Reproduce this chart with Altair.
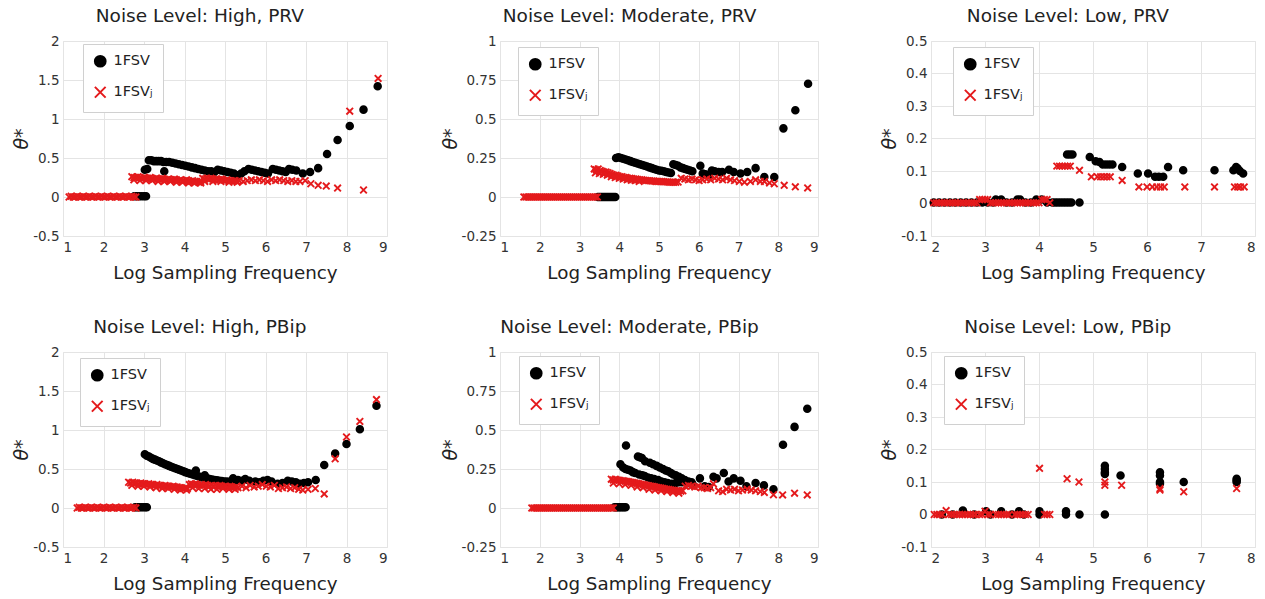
import altair as alt
import pandas as pd

S1 = "1FSV"
S2 = "1FSV\u2c7c"
XPATH = "M-1,-1L1,1M-1,1L1,-1"

# ---------------- Noise Level: High, PRV ----------------
hprv_fsv = [(2.76,0.01),(2.82,0.01),(2.88,0.01),(2.94,0.01),(3.0,0.01),(3.05,0.01),
    (3.02,0.35),(3.08,0.36),
    (3.12,0.47),(3.18,0.47),(3.24,0.46),(3.3,0.46),(3.36,0.46),(3.42,0.46),(3.48,0.45),(3.55,0.45),
    (3.62,0.45),(3.7,0.44),(3.78,0.43),(3.86,0.42),(3.94,0.41),(4.02,0.40),(4.1,0.39),(4.18,0.38),
    (4.26,0.37),(4.34,0.36),(4.42,0.35),(4.5,0.34),(4.58,0.33),(4.66,0.33),(4.74,0.32),(4.82,0.35),
    (4.9,0.34),(4.98,0.33),(5.06,0.32),(5.14,0.31),(5.22,0.30),(5.3,0.28),(3.5,0.33),
    (5.4,0.30),(5.48,0.33),(5.58,0.36),(5.66,0.35),(5.74,0.34),(5.82,0.33),(5.9,0.32),(5.98,0.31),
    (6.06,0.30),(6.18,0.36),(6.26,0.35),(6.34,0.34),(6.42,0.33),(6.5,0.32),(6.58,0.36),(6.66,0.35),
    (6.76,0.34),(6.92,0.30),(7.1,0.32),(7.3,0.37),(7.52,0.55),(7.78,0.73),(8.08,0.91),(8.42,1.12),(8.77,1.42)]
hprv_fsvj = [(1.15,0),(1.2,0.01),(1.25,0),(1.3,0),(1.35,0.01),(1.4,0),(1.45,0),(1.5,0.01),(1.55,0),
    (1.6,0),(1.65,0.01),(1.7,0),(1.75,0),(1.8,0.01),(1.85,0),(1.9,0),(1.95,0.01),(2.0,0),(2.05,0),
    (2.1,0.01),(2.15,0),(2.2,0),(2.25,0.01),(2.3,0),(2.35,0),(2.4,0.01),(2.45,0),(2.5,0),(2.55,0.01),
    (2.6,0),(2.65,0),(2.7,0.01),(2.75,0),(2.8,0),
    (2.7,0.26),(2.75,0.25),(2.8,0.25),(2.85,0.26),(2.9,0.25),(2.95,0.24),(3.0,0.25),(3.05,0.24),
    (3.1,0.24),(3.15,0.25),(3.2,0.24),(3.25,0.23),(3.3,0.24),(3.35,0.23),(3.4,0.23),(3.45,0.24),
    (3.5,0.23),(3.55,0.22),(3.6,0.23),(3.65,0.22),(3.7,0.22),(3.75,0.23),(3.8,0.22),(3.85,0.21),
    (3.9,0.22),(3.95,0.21),(4.0,0.21),(4.05,0.22),(4.1,0.21),(4.15,0.20),(4.2,0.21),(4.25,0.20),
    (4.3,0.20),(4.35,0.19),(4.4,0.20),
    (2.75,0.22),(2.9,0.21),(3.05,0.21),(3.2,0.21),(3.35,0.20),(3.5,0.20),(3.65,0.20),(3.8,0.19),
    (3.95,0.19),(4.1,0.18),(4.25,0.18),(4.4,0.18),
    (4.45,0.24),(4.5,0.23),(4.55,0.24),(4.6,0.23),(4.65,0.24),(4.7,0.23),(4.75,0.22),(4.8,0.23),
    (4.85,0.22),(4.9,0.23),(4.95,0.22),(5.0,0.21),(5.05,0.22),(5.1,0.21),(5.15,0.21),(5.2,0.20),
    (5.25,0.21),(5.3,0.20),(5.35,0.21),(4.5,0.20),(4.7,0.20),(4.9,0.20),(5.1,0.19),(5.3,0.19),
    (5.45,0.20),(5.55,0.21),(5.65,0.22),(5.75,0.21),(5.85,0.22),(5.95,0.21),(6.05,0.20),(6.15,0.22),
    (6.25,0.21),(6.35,0.22),(6.45,0.21),(6.55,0.20),(6.65,0.21),(6.75,0.20),(6.85,0.20),(6.98,0.21),
    (7.12,0.17),(7.3,0.15),(7.5,0.14),(7.78,0.115),(8.08,1.10),(8.42,0.09),(8.78,1.52)]

# ---------------- Noise Level: Moderate, PRV ----------------
mprv_fsv = [(3.46,0),(3.5,0),(3.54,0),(3.58,0),(3.62,0),(3.66,0),(3.7,0),(3.74,0),(3.78,0),(3.82,0),
    (3.86,0),(3.9,0),
    (3.92,0.25),(3.98,0.255),(4.04,0.25),(4.1,0.245),(4.16,0.24),(4.22,0.235),(4.28,0.23),(4.34,0.225),
    (4.4,0.22),(4.46,0.215),(4.52,0.21),(4.58,0.205),(4.64,0.2),(4.7,0.195),(4.76,0.19),(4.82,0.185),
    (4.88,0.18),(4.94,0.175),(5.0,0.17),(5.06,0.168),(5.12,0.165),(5.18,0.16),(5.24,0.157),(5.3,0.154),
    (5.36,0.21),(5.42,0.205),(5.48,0.2),(5.54,0.19),(5.6,0.185),(5.66,0.18),(5.72,0.175),(5.78,0.17),
    (5.84,0.165),(6.04,0.2),(6.1,0.15),(6.17,0.145),(6.25,0.14),(6.33,0.17),(6.4,0.165),(6.5,0.16),
    (6.59,0.16),(6.76,0.175),(6.88,0.16),(7.05,0.15),(7.22,0.16),(7.43,0.185),(7.65,0.128),(7.9,0.128),
    (8.13,0.44),(8.43,0.556),(8.75,0.726)]
mprv_fsvj = [(1.6,0),(1.65,0),(1.7,0),(1.75,0),(1.8,0),(1.85,0),(1.9,0),(1.95,0),(2.0,0),(2.05,0),
    (2.1,0),(2.15,0),(2.2,0),(2.25,0),(2.3,0),(2.35,0),(2.4,0),(2.45,0),(2.5,0),(2.55,0),(2.6,0),
    (2.65,0),(2.7,0),(2.75,0),(2.8,0),(2.85,0),(2.9,0),(2.95,0),(3.0,0),(3.05,0),(3.1,0),(3.15,0),
    (3.2,0),(3.25,0),(3.3,0),(3.35,0),(3.4,0),(3.45,0),
    (3.37,0.18),(3.42,0.175),(3.47,0.18),(3.52,0.17),(3.57,0.165),(3.62,0.16),(3.67,0.16),(3.72,0.155),
    (3.77,0.15),(3.82,0.145),(3.87,0.14),(3.92,0.14),(3.97,0.135),(4.02,0.13),(4.07,0.13),(4.12,0.125),
    (4.17,0.125),(4.22,0.12),(4.27,0.12),(4.32,0.118),(4.37,0.115),(4.42,0.115),(4.47,0.112),(4.52,0.11),
    (4.57,0.11),(4.62,0.108),(4.67,0.106),(4.72,0.105),(4.77,0.104),(4.82,0.103),(4.87,0.102),(4.92,0.1),
    (4.97,0.1),(5.02,0.1),(5.07,0.099),(5.12,0.098),(5.17,0.097),(5.22,0.096),(5.27,0.095),(5.32,0.095),
    (5.37,0.094),(5.42,0.094),(5.48,0.096),
    (3.4,0.155),(3.5,0.15),(3.6,0.145),(3.7,0.14),(3.8,0.13),(3.9,0.125),(4.0,0.12),(4.1,0.115),
    (4.2,0.11),(4.3,0.108),(4.4,0.105),(4.5,0.1),
    (5.56,0.12),(5.65,0.115),(5.74,0.11),(5.83,0.115),(5.92,0.11),(6.01,0.105),(6.1,0.11),(6.2,0.115),
    (6.3,0.11),(6.4,0.12),(6.5,0.115),(6.6,0.11),(6.7,0.12),(6.8,0.11),(6.9,0.105),(7.02,0.1),
    (7.15,0.095),(7.3,0.1),(7.43,0.11),(7.55,0.1),(7.65,0.1),(7.78,0.09),(7.9,0.085),(8.15,0.075),
    (8.43,0.065),(8.74,0.058)]

# ---------------- Noise Level: Low, PRV ----------------
lprv_fsv = [(2.05,0.003),(2.15,0.003),(2.25,0.003),(2.35,0.003),(2.45,0.003),(2.55,0.003),(2.65,0.003),
    (2.75,0.003),(2.85,0.003),(2.95,0.003),(3.05,0.003),(3.15,0.003),(3.2,0.012),(3.3,0.012),
    (3.4,0.003),(3.5,0.003),(3.6,0.012),(3.65,0.012),(3.75,0.003),(3.85,0.003),(3.95,0.012),
    (4.05,0.012),(4.15,0.003),(4.25,0.003),(4.3,0.003),(4.35,0.003),(4.4,0.003),(4.45,0.003),
    (4.5,0.003),(4.55,0.003),(4.6,0.003),(4.75,0.003),
    (4.52,0.151),(4.57,0.151),(4.62,0.151),(4.94,0.143),(5.05,0.13),(5.12,0.128),(5.18,0.12),
    (5.24,0.12),(5.3,0.12),(5.36,0.12),(5.54,0.112),(5.83,0.092),(6.02,0.092),(6.15,0.082),
    (6.22,0.082),(6.3,0.082),(6.39,0.112),(6.67,0.102),(7.25,0.102),(7.6,0.102),(7.65,0.112),
    (7.68,0.108),(7.72,0.1),(7.78,0.092)]
lprv_fsvj = [(2.05,0.002),(2.1,0.002),(2.15,0.002),(2.2,0.002),(2.25,0.002),(2.3,0.002),(2.35,0.002),
    (2.4,0.002),(2.45,0.002),(2.5,0.002),(2.55,0.002),(2.6,0.002),(2.65,0.002),(2.7,0.002),(2.75,0.002),
    (2.8,0.002),(2.85,0.002),(2.9,0.012),(2.95,0.012),(3.0,0.012),(3.05,0.012),(3.1,0.002),(3.15,0.002),
    (3.2,0.002),(3.25,0.002),(3.3,0.002),(3.35,0.002),(3.4,0.002),(3.45,0.002),(3.5,0.002),(3.55,0.002),
    (3.6,0.002),(3.65,0.002),(3.7,0.002),(3.75,0.002),(3.8,0.002),(3.85,0.002),(3.9,0.002),(3.95,0.002),
    (4.0,0.002),(4.05,0.012),(4.1,0.012),(4.15,0.012),(4.2,0.002),
    (4.33,0.115),(4.38,0.115),(4.43,0.115),(4.48,0.115),(4.53,0.115),(4.58,0.115),(4.75,0.102),
    (4.97,0.082),(5.08,0.082),(5.14,0.082),(5.2,0.082),(5.26,0.082),(5.32,0.082),(5.54,0.071),
    (5.85,0.051),(6.0,0.051),(6.1,0.051),(6.18,0.051),(6.25,0.051),(6.32,0.051),(6.7,0.051),
    (7.25,0.051),(7.62,0.051),(7.68,0.051),(7.73,0.051),(7.8,0.051)]

# ---------------- Noise Level: High, PBip ----------------
hpbip_fsv = [(2.78,0.01),(2.83,0.01),(2.88,0.01),(2.93,0.01),(2.98,0.01),(3.03,0.01),(3.07,0.01),
    (3.02,0.69),(3.07,0.67),(3.12,0.66),(3.17,0.645),(3.22,0.63),(3.27,0.62),(3.32,0.61),(3.37,0.6),
    (3.42,0.585),(3.47,0.575),(3.52,0.56),(3.57,0.55),(3.62,0.54),(3.67,0.53),(3.72,0.52),(3.77,0.51),
    (3.82,0.5),(3.87,0.49),(3.92,0.48),(3.97,0.47),(4.02,0.46),(4.08,0.45),(4.14,0.44),(4.2,0.43),
    (4.26,0.42),(4.32,0.41),(4.38,0.4),(4.44,0.39),(4.5,0.385),(4.56,0.38),(4.62,0.37),(4.68,0.365),
    (4.74,0.36),(4.8,0.355),(4.86,0.35),(4.92,0.345),(4.98,0.34),(5.04,0.34),(5.1,0.335),(5.16,0.33),
    (5.22,0.33),(4.28,0.48),(4.5,0.42),
    (5.2,0.38),(5.32,0.36),(5.42,0.35),(5.5,0.37),(5.6,0.35),(5.75,0.34),(5.85,0.33),(5.95,0.35),
    (6.05,0.36),(6.15,0.34),(6.3,0.31),(6.42,0.32),(6.55,0.35),(6.65,0.34),(6.75,0.33),(6.85,0.31),
    (6.95,0.32),(7.05,0.33),(7.24,0.36),(7.45,0.55),(7.72,0.70),(8.0,0.82),(8.33,1.01),(8.74,1.31)]
hpbip_fsvj = [(1.35,0),(1.4,0.01),(1.45,0),(1.5,0),(1.55,0.01),(1.6,0),(1.65,0),(1.7,0.01),(1.75,0),
    (1.8,0),(1.85,0.01),(1.9,0),(1.95,0),(2.0,0.01),(2.05,0),(2.1,0),(2.15,0.01),(2.2,0),(2.25,0),
    (2.3,0.01),(2.35,0),(2.4,0),(2.45,0.01),(2.5,0),(2.55,0),(2.6,0.01),(2.65,0),(2.7,0),(2.75,0.01),
    (2.8,0),
    (2.62,0.33),(2.67,0.32),(2.72,0.33),(2.77,0.32),(2.82,0.32),(2.87,0.31),(2.92,0.32),(2.97,0.31),
    (3.02,0.31),(3.07,0.30),(3.12,0.31),(3.17,0.30),(3.22,0.30),(3.27,0.29),(3.32,0.30),(3.37,0.29),
    (3.42,0.29),(3.47,0.28),(3.52,0.29),(3.57,0.28),(3.62,0.28),(3.67,0.27),(3.72,0.28),(3.77,0.27),
    (3.82,0.27),(3.87,0.26),(3.92,0.26),(3.97,0.25),(4.02,0.26),(4.07,0.25),
    (2.7,0.29),(2.85,0.28),(3.0,0.28),(3.15,0.27),(3.3,0.26),(3.45,0.25),(3.6,0.25),(3.75,0.24),
    (3.9,0.23),(4.05,0.23),
    (4.12,0.30),(4.17,0.31),(4.22,0.30),(4.27,0.31),(4.32,0.30),(4.37,0.29),(4.42,0.30),(4.47,0.29),
    (4.52,0.30),(4.57,0.29),(4.62,0.28),(4.67,0.29),(4.72,0.28),(4.77,0.29),(4.82,0.28),(4.87,0.29),
    (4.92,0.28),(4.97,0.27),(5.02,0.28),(5.07,0.27),(5.12,0.28),(5.17,0.27),(5.22,0.26),(5.27,0.27),
    (5.32,0.26),
    (4.2,0.26),(4.35,0.25),(4.5,0.25),(4.65,0.24),(4.8,0.24),(4.95,0.25),(5.1,0.24),(5.25,0.24),
    (5.42,0.28),(5.52,0.26),(5.62,0.29),(5.72,0.27),(5.82,0.28),(5.92,0.30),(6.02,0.28),(6.12,0.27),
    (6.22,0.29),(6.32,0.25),(6.42,0.26),(6.52,0.27),(6.62,0.25),(6.72,0.26),(6.82,0.24),(6.92,0.23),
    (7.05,0.24),(7.23,0.25),(7.45,0.18),(7.72,0.63),(8.0,0.91),(8.33,1.11),(8.74,1.39)]

# ---------------- Noise Level: Moderate, PBip ----------------
mpbip_fsv = [(3.88,0.005),(3.92,0.005),(3.96,0.005),(4.0,0.005),(4.04,0.005),(4.08,0.005),(4.12,0.005),
    (4.16,0.005),
    (4.17,0.40),(4.03,0.28),(4.1,0.26),(4.16,0.25),(4.22,0.245),(4.28,0.24),(4.34,0.23),(4.4,0.225),
    (4.47,0.33),(4.52,0.325),(4.57,0.32),(4.65,0.30),(4.77,0.29),(4.85,0.28),(4.94,0.27),(5.02,0.26),
    (5.1,0.25),(5.17,0.24),(5.23,0.235),(5.3,0.225),(5.36,0.215),(5.42,0.21),(5.5,0.20),(5.57,0.19),
    (5.65,0.18),(5.74,0.17),(5.82,0.165),
    (4.5,0.215),(4.58,0.21),(4.64,0.205),(4.72,0.195),(4.8,0.19),(4.88,0.185),(4.98,0.18),(5.06,0.17),
    (5.14,0.165),(5.22,0.16),(5.32,0.155),(5.42,0.16),(5.5,0.165),(5.58,0.165),(5.66,0.165),(5.75,0.16),
    (5.85,0.15),(6.03,0.19),(6.15,0.14),(6.25,0.135),(6.37,0.20),(6.45,0.19),(6.63,0.225),(6.75,0.17),
    (6.88,0.19),(7.05,0.175),(7.2,0.14),(7.43,0.16),(7.64,0.145),(7.88,0.12),(8.12,0.405),(8.41,0.52),
    (8.73,0.636)]
mpbip_fsvj = [(1.8,0),(1.85,0),(1.9,0),(1.95,0),(2.0,0),(2.05,0),(2.1,0),(2.15,0),(2.2,0),(2.25,0),
    (2.3,0),(2.35,0),(2.4,0),(2.45,0),(2.5,0),(2.55,0),(2.6,0),(2.65,0),(2.7,0),(2.75,0),(2.8,0),
    (2.85,0),(2.9,0),(2.95,0),(3.0,0),(3.05,0),(3.1,0),(3.15,0),(3.2,0),(3.25,0),(3.3,0),(3.35,0),
    (3.4,0),(3.45,0),(3.5,0),(3.55,0),(3.6,0),(3.65,0),(3.7,0),(3.75,0),(3.8,0),(3.85,0),
    (3.8,0.185),(3.85,0.18),(3.9,0.185),(3.95,0.18),(4.0,0.178),(4.05,0.175),(4.1,0.175),(4.15,0.172),
    (4.2,0.17),(4.25,0.168),(4.3,0.165),(4.35,0.163),(4.4,0.16),(4.45,0.158),(4.5,0.155),(4.55,0.152),
    (4.6,0.15),(4.65,0.148),(4.7,0.145),(4.75,0.142),(4.8,0.14),(4.85,0.138),(4.9,0.135),(4.95,0.132),
    (5.0,0.13),(5.05,0.128),(5.1,0.125),(5.15,0.122),(5.2,0.12),(5.25,0.118),(5.3,0.116),(5.35,0.114),
    (5.4,0.112),(5.45,0.11),(5.5,0.11),(5.55,0.108),(5.6,0.11),
    (3.85,0.16),(4.0,0.155),(4.15,0.15),(4.3,0.145),(4.45,0.135),(4.6,0.13),(4.75,0.12),(4.9,0.115),
    (5.05,0.11),(5.2,0.105),(5.35,0.10),(5.5,0.095),
    (5.66,0.14),(5.74,0.145),(5.82,0.14),(5.9,0.135),(5.98,0.14),(6.06,0.13),(6.14,0.13),(6.22,0.125),
    (6.3,0.13),(6.37,0.155),(6.5,0.11),(6.6,0.105),(6.7,0.12),(6.8,0.115),(6.9,0.12),(7.0,0.11),
    (7.1,0.115),(7.22,0.12),(7.32,0.115),(7.43,0.11),(7.55,0.105),(7.65,0.10),(7.88,0.085),(8.11,0.084),
    (8.41,0.095),(8.73,0.084)]

# ---------------- Noise Level: Low, PBip ----------------
lpbip_fsv = [(2.2,0),(2.4,0),(2.59,0.012),(2.8,0),(3.02,0.01),(3.1,0),(3.3,0.01),(3.5,0),(3.63,0.01),
    (3.72,0),(4.01,0),(4.01,0.01),(4.5,0),(4.5,0.01),(4.75,0),(5.22,0),
    (5.22,0.15),(5.22,0.14),(5.22,0.13),(5.22,0.125),(5.51,0.12),(6.24,0.13),(6.24,0.12),(6.24,0.10),
    (6.24,0.095),(6.68,0.10),(7.66,0.11),(7.66,0.105),(7.66,0.10)]
lpbip_fsvj = [(2.06,0),(2.11,0),(2.16,0),(2.21,0),(2.28,0.012),(2.33,0),(2.38,0),(2.43,0),(2.48,0),
    (2.53,0),(2.58,0),(2.63,0),(2.68,0),(2.73,0),(2.78,0),(2.83,0),(2.9,0),(2.95,0),(3.0,0.01),
    (3.05,0),(3.1,0),(3.2,0),(3.25,0),(3.3,0),(3.35,0),(3.4,0),(3.45,0),(3.55,0),(3.6,0),(3.65,0),
    (3.7,0),(3.75,0),(3.8,0),(4.1,0),(4.15,0),(4.2,0),
    (4.01,0.142),(4.52,0.11),(4.74,0.10),(5.22,0.10),(5.22,0.09),(5.53,0.09),(6.24,0.08),(6.24,0.075),
    (6.68,0.07),(7.66,0.08)]

TITLES = ["Noise Level: High, PRV", "Noise Level: Moderate, PRV", "Noise Level: Low, PRV",
          "Noise Level: High, PBip", "Noise Level: Moderate, PBip", "Noise Level: Low, PBip"]
X_WIDE = [1, 2, 3, 4, 5, 6, 7, 8, 9]
X_NARROW = [2, 3, 4, 5, 6, 7, 8]
Y_HIGH = [-0.5, 0, 0.5, 1, 1.5, 2]
Y_MOD = [-0.25, 0, 0.25, 0.5, 0.75, 1]
Y_LOW = [-0.1, 0, 0.1, 0.2, 0.3, 0.4, 0.5]

FONT = "DejaVu Sans"


def panel(title, fsv, fsvj, xticks, yticks, width, lx, ly):
    df = pd.DataFrame(
        [{"x": a, "y": b, "s": S1} for a, b in fsv] + [{"x": a, "y": b, "s": S2} for a, b in fsvj]
    )
    leg = alt.Legend(title=None, orient="none", legendX=lx, legendY=ly,
                     strokeColor="#d0d0d0", fillColor="white", padding=10, rowPadding=11,
                     labelFont=FONT, labelFontSize=14.5, labelColor="#222",
                     symbolSize=115, symbolStrokeWidth=2, labelOffset=6)
    return alt.Chart(df).mark_point(filled=False, opacity=1, size=44, strokeWidth=1.9).encode(
        x=alt.X("x:Q", scale=alt.Scale(domain=[xticks[0], xticks[-1]], nice=False, zero=False),
                axis=alt.Axis(values=xticks, title="Log Sampling Frequency", labelExpr="'' + datum.value")),
        y=alt.Y("y:Q", scale=alt.Scale(domain=[yticks[0], yticks[-1]], nice=False, zero=False),
                axis=alt.Axis(values=yticks, title="θ*", labelExpr="'' + datum.value",
                              titleFontStyle="italic", titleFontSize=19, titleFontWeight="normal")),
        color=alt.Color("s:N", scale=alt.Scale(domain=[S1, S2], range=["#000000", "#e41a1c"]), legend=leg),
        fill=alt.Fill("s:N", scale=alt.Scale(domain=[S1, S2], range=["#000000", "transparent"]), legend=leg),
        shape=alt.Shape("s:N", scale=alt.Scale(domain=[S1, S2], range=["circle", XPATH]), legend=leg),
    ).properties(
        width=width, height=195,
        title=alt.TitleParams(title, fontSize=18.5, fontWeight="normal", color="#222", font=FONT,
                              anchor="middle", frame="bounds", offset=9),
    )


panels = [
    panel(TITLES[0], hprv_fsv, hprv_fsvj, X_WIDE, Y_HIGH, 324, 20, 3),
    panel(TITLES[1], mprv_fsv, mprv_fsvj, X_WIDE, Y_MOD, 318, 18, 6),
    panel(TITLES[2], lprv_fsv, lprv_fsvj, X_NARROW, Y_LOW, 324, 22, 6),
    panel(TITLES[3], hpbip_fsv, hpbip_fsvj, X_WIDE, Y_HIGH, 324, 17, 6),
    panel(TITLES[4], mpbip_fsv, mpbip_fsvj, X_WIDE, Y_MOD, 318, 19, 4),
    panel(TITLES[5], lpbip_fsv, lpbip_fsvj, X_NARROW, Y_LOW, 324, 13, 4),
]

chart = alt.concat(
    *panels, columns=3, spacing={"row": 116, "column": 113}, bounds="flush"
).resolve_scale(
    color="independent", fill="independent", shape="independent"
).resolve_legend(
    color="independent", fill="independent", shape="independent"
).configure(
    font=FONT, background="white"
).configure_view(
    stroke="#e4e4e4"
).configure_axis(
    grid=True, gridColor="#e4e4e4", gridWidth=1, domain=False, ticks=False,
    labelFont=FONT, labelFontSize=13.5, labelColor="#333", labelPadding=4,
    titleFont=FONT, titleFontSize=18.3, titleFontWeight="normal", titleColor="#222",
).configure_axisX(
    titlePadding=11
).configure_axisY(
    titlePadding=1
).properties(padding={"left": 12, "top": 6, "right": 5, "bottom": 3})

chart.save("out.html", embed_options={"renderer": "svg", "actions": False})
